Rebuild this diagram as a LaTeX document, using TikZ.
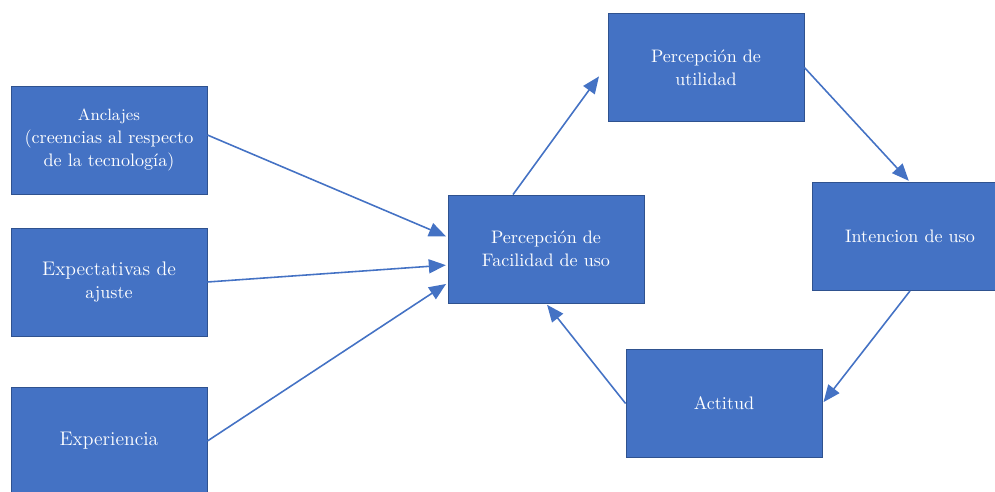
\documentclass[tikz,border=0pt]{standalone}
\usepackage{fontspec}
\usetikzlibrary{arrows.meta}
\definecolor{boxblue}{HTML}{4472C4}
\definecolor{boxline}{HTML}{2F528F}
\begin{document}
\begin{tikzpicture}[x=0.02cm, y=-0.02cm, shorten >=1pt, line width=0.9pt,
  main node/.style={rectangle, draw=boxline, line width=0.5pt, fill=boxblue, text=white, align=center, minimum width=3.92cm, minimum height=2.16cm, inner sep=2pt},
  link/.style={draw=boxblue, -{Triangle[length=0.34cm, width=0.28cm]}}]
\useasboundingbox (0,0) rectangle (995,491);
\begin{scope}[every node/.style={main node, font=\fontsize{10.3}{13}\selectfont}]
\node (anc) at (109,140) {\fontsize{9.3}{12}\selectfont Anclajes\\(creencias al respecto\\de la tecnología)};
\node (exa) at (109,282) {\fontsize{11.2}{14}\selectfont Expectativas de\\ajuste};
\node (exp) at (109,441) {\fontsize{11.2}{14}\selectfont Experiencia};
\node (fac) at (546,249) {Percepción de\\Facilidad de uso};
\node (uti) at (706,67.5) {Percepción de\\utilidad};
\node (int) at (910,236.5) {Intencion de uso};
\node (act) at (724,403.5) {Actitud};
\end{scope}
\coordinate (tipu) at (600,75);
\draw [link] ([yshift=0.1cm]anc.east) -- ([yshift=0.24cm]fac.west);
\draw [link] (exa.east) -- ([yshift=-0.32cm]fac.west);
\draw [link] (exp.east) -- ([yshift=-0.68cm]fac.west);
\draw [link] ([xshift=-0.66cm]fac.north) -- (tipu);
\draw [link] (uti.east) -- (int.north);
\draw [link] (int.south) -- (act.east);
\draw [link] (act.west) -- (fac.south);
\end{tikzpicture}
\end{document}
